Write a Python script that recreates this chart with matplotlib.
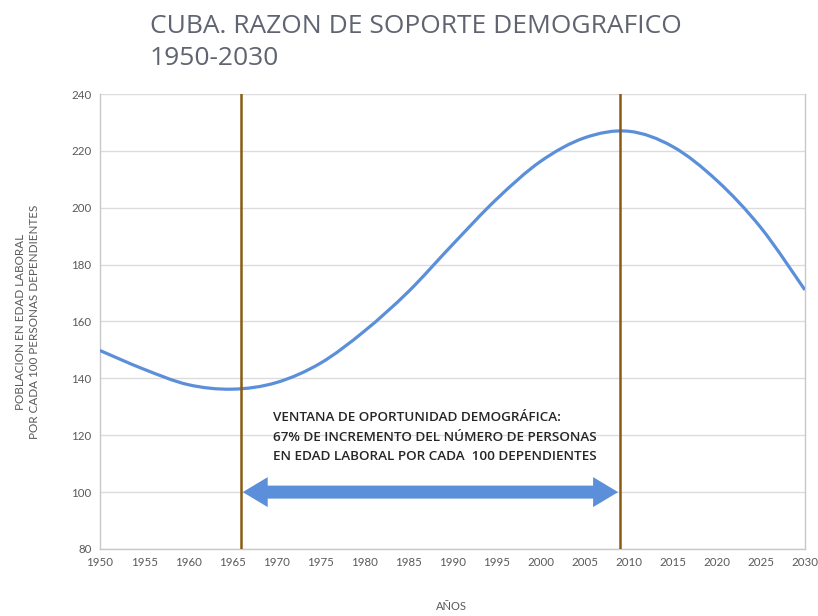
import numpy as np
import matplotlib
matplotlib.use("Agg")
import matplotlib.pyplot as plt
from matplotlib.path import Path
from matplotlib.patches import PathPatch, Polygon

# data (5-year steps)
years = [1950, 1955, 1960, 1965, 1970, 1975, 1980, 1985, 1990,
         1995, 2000, 2005, 2010, 2015, 2020, 2025, 2030]
ratio = [149.8, 143.2, 137.8, 136.2, 138.5, 145.3, 156.6, 170.5, 187.0,
         203.0, 216.3, 224.6, 226.9, 221.5, 209.6, 193.0, 171.1]

window_start = 1966
window_end = 2009
arrow_level = 100

title = "CUBA. RAZON DE SOPORTE DEMOGRAFICO\n1950-2030"
ylabel = "POBLACION EN EDAD LABORAL\nPOR CADA 100 PERSONAS DEPENDIENTES"
xlabel = "AÑOS"
note = ("VENTANA DE OPORTUNIDAD DEMOGRÁFICA:\n"
        "67% DE INCREMENTO DEL NÚMERO DE PERSONAS\n"
        "EN EDAD LABORAL POR CADA  100 DEPENDIENTES")

plt.rcParams['font.family'] = ['Lato', 'DejaVu Sans']

line_col = '#5b8fd9'
vline_col = '#8a5a12'
grey = '#595959'


def smooth_path(x, y, t=1/6.):
    # bezier smoothing like a spreadsheet "smoothed line"
    x = np.asarray(x, float)
    y = np.asarray(y, float)
    verts = [(x[0], y[0])]
    codes = [Path.MOVETO]
    n = len(x)
    for i in range(n - 1):
        i0 = max(i - 1, 0)
        i3 = min(i + 2, n - 1)
        c1 = (x[i] + (x[i+1] - x[i0]) * t, y[i] + (y[i+1] - y[i0]) * t)
        c2 = (x[i+1] - (x[i3] - x[i]) * t, y[i+1] - (y[i3] - y[i]) * t)
        verts += [c1, c2, (x[i+1], y[i+1])]
        codes += [Path.CURVE4] * 3
    return Path(verts, codes)


fig = plt.figure(figsize=(8.18, 6.16), dpi=100)
ax = fig.add_axes([0.1222, 0.1088, 0.8618, 0.7386])

ax.add_patch(PathPatch(smooth_path(years, ratio), facecolor='none',
                       edgecolor=line_col, lw=2.3, capstyle='butt', zorder=3))

ax.set_xlim(1950, 2030)
ax.set_ylim(80, 240)
ax.set_xticks(np.arange(1950, 2031, 5))
ax.set_yticks(np.arange(80, 241, 20))
ax.grid(axis='y', color='#dcdcdc', lw=1.0)
ax.set_axisbelow(True)
for s in ax.spines.values():
    s.set_color('#c8c8c8')
    s.set_linewidth(1.0)
ax.spines['top'].set_visible(False)
ax.tick_params(length=0, labelsize=8.3, colors=grey, pad=6)

for xv in (window_start, window_end):
    ax.axvline(xv, color=vline_col, lw=1.8, zorder=4)

# double-headed block arrow, head sizes in pixels, ends in data coords
hl, hw, tw = 25, 15, 6.5
x0, y0 = ax.transData.transform((window_start + 0.2, arrow_level))
x1, _ = ax.transData.transform((window_end - 0.2, arrow_level))
pts = [(x0, y0), (x0 + hl, y0 + hw), (x0 + hl, y0 + tw), (x1 - hl, y0 + tw),
       (x1 - hl, y0 + hw), (x1, y0), (x1 - hl, y0 - hw), (x1 - hl, y0 - tw),
       (x0 + hl, y0 - tw), (x0 + hl, y0 - hw)]
pts = ax.transData.inverted().transform(pts)
ax.add_patch(Polygon(pts, closed=True, facecolor=line_col, edgecolor='none', zorder=5))

ax.text(1969.6, 128.6, note, fontsize=9.7, color='#262626', va='top', ha='left',
        linespacing=1.68, fontweight='semibold', family=['Open Sans', 'DejaVu Sans'],
        fontstretch='condensed')

fig.text(0.183, 0.978, title, fontsize=19, color='#5f6470', va='top', ha='left',
         linespacing=1.4, family=['Open Sans', 'DejaVu Sans'])
fig.text(0.034, 0.478, ylabel, fontsize=8.4, color=grey, rotation=90,
         ha='center', va='center', linespacing=1.3)
fig.text(0.552, 0.006, xlabel, fontsize=8, color=grey, ha='center', va='bottom')

fig.savefig('out.png', dpi=100)
